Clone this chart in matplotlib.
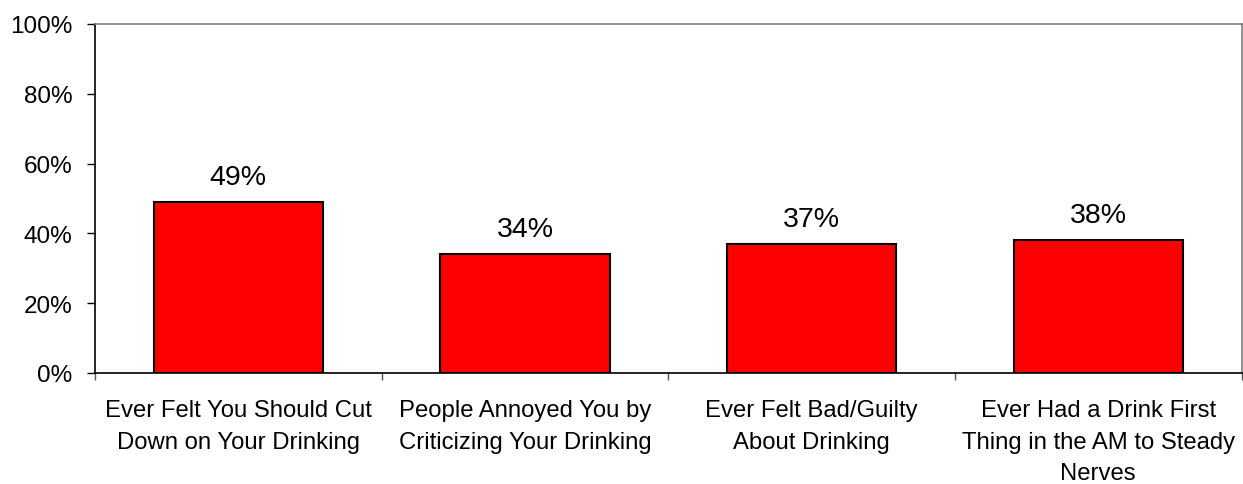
import matplotlib.pyplot as plt

plt.rcParams['font.family'] = ['Liberation Sans', 'DejaVu Sans']

# data
categories = ['Ever Felt You Should Cut\nDown on Your Drinking',
              'People Annoyed You by\nCriticizing Your Drinking',
              'Ever Felt Bad/Guilty\nAbout Drinking',
              'Ever Had a Drink First\nThing in the AM to Steady\nNerves']
values = [49, 34, 37, 38]
yticks = [0, 20, 40, 60, 80, 100]

fig = plt.figure(figsize=(12.43, 4.85), dpi=100)
ax = fig.add_axes([0.0764, 0.2289, 0.9225, 0.7196])

pos = list(range(len(categories)))
bars = ax.bar(pos, values, width=0.59, color='#FF0000', edgecolor='black', linewidth=1.5, zorder=3)

# value labels above bars
for x, v in zip(pos, values):
    ax.annotate(f'{v}%', (x, v), xytext=(0, 13), textcoords='offset points',
                ha='center', va='baseline', fontsize=20.5)

ax.set_xlim(-0.5, len(categories) - 0.5)
ax.set_ylim(0, 100)
ax.set_yticks(yticks)
ax.set_yticklabels([f'{t}%' for t in yticks], fontsize=17.5)
ax.tick_params(axis='y', direction='out', length=5.8, width=1, pad=10.5)

# boundaries get the tick marks, centers get the labels
ax.set_xticks([p - 0.5 for p in pos] + [len(categories) - 0.5])
ax.set_xticklabels([])
ax.tick_params(axis='x', which='major', direction='out', length=5, width=1, color='#555555')
ax.set_xticks(pos, minor=True)
ax.set_xticklabels(categories, minor=True, fontsize=17.2, linespacing=1.58)
ax.tick_params(axis='x', which='minor', length=0, pad=18.5)

for side in ['left', 'bottom']:
    ax.spines[side].set_color('black')
    ax.spines[side].set_linewidth(1.2)
for side in ['top', 'right']:
    ax.spines[side].set_color('#808080')
    ax.spines[side].set_linewidth(1.2)

fig.savefig('out.png', dpi=100)
